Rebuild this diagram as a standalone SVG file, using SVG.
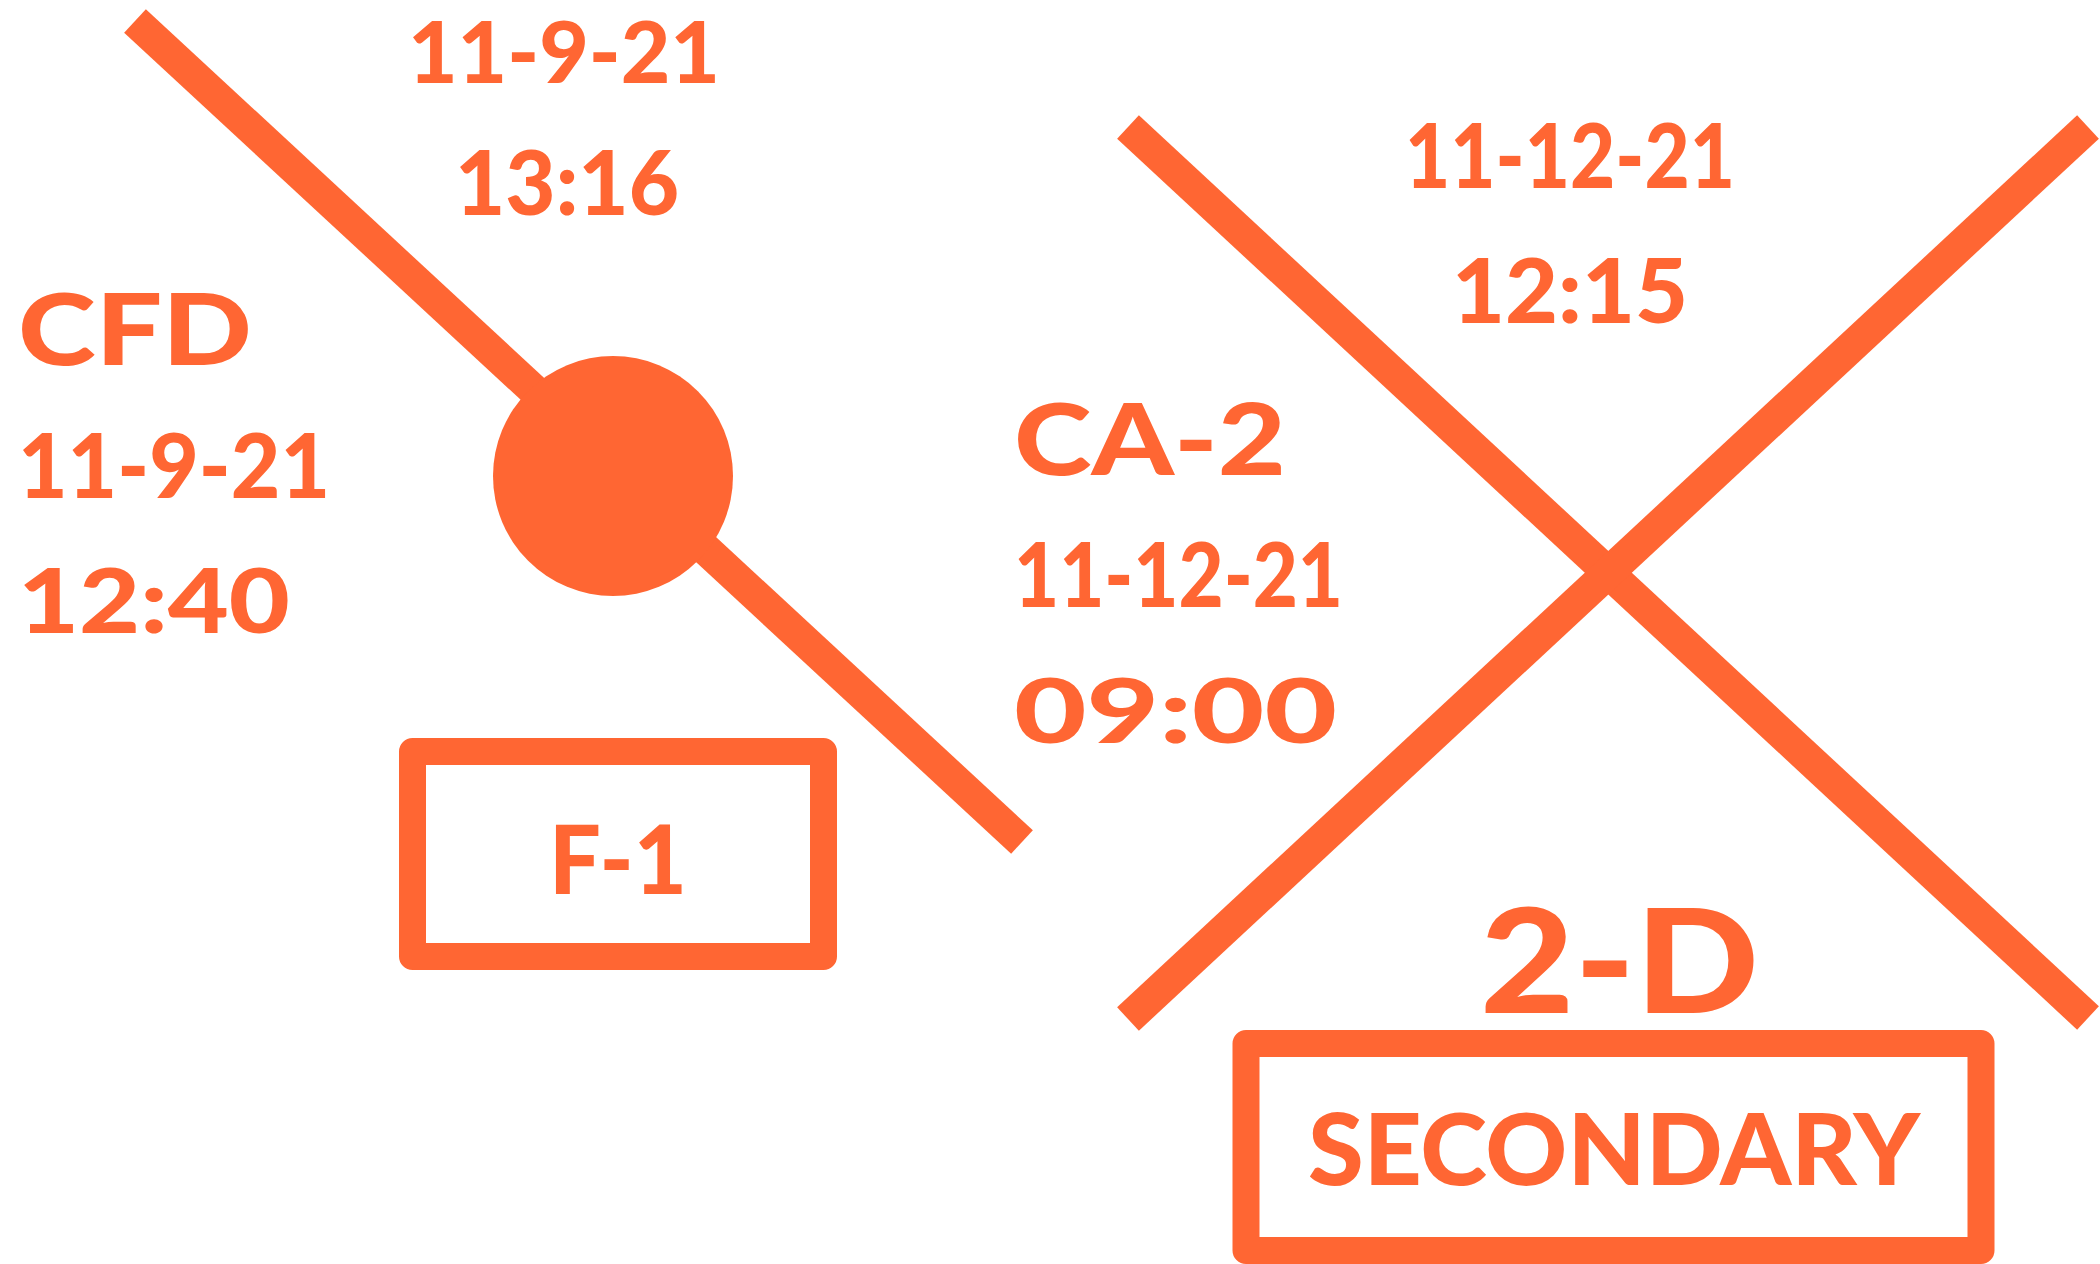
<svg xmlns="http://www.w3.org/2000/svg" width="2100" height="1264" viewBox="0 0 2100 1264">
<style>
.ln{stroke:#FF6633;stroke-width:32;fill:none;stroke-linecap:butt}
.bx{fill:none;stroke:#FF6633;stroke-width:27;stroke-linejoin:round}
.t{font-family:"Lato","DejaVu Sans",sans-serif;font-weight:900;fill:#FF6633;font-size:90px}
</style>
<rect width="2100" height="1264" fill="#FFFFFF"/>
<g id="connectors">
<line class="ln" x1="135" y1="21" x2="1022" y2="842"/>
<line class="ln" x1="1128" y1="127" x2="2088" y2="1018"/>
<line class="ln" x1="1128" y1="1019" x2="2088" y2="127"/>
</g>
<g id="node-circle">
<circle cx="613" cy="476" r="120" fill="#FF6633"/>
<text class="t" x="408" y="83" textLength="312" lengthAdjust="spacingAndGlyphs" style="font-size:86px">11-9-21</text>
<text class="t" x="455" y="215" textLength="224" lengthAdjust="spacingAndGlyphs">13:16</text>
</g>
<g id="node-cfd">
<text class="t" x="18" y="365" textLength="234" lengthAdjust="spacingAndGlyphs" style="font-size:100px">CFD</text>
<text class="t" x="18" y="498" textLength="312" lengthAdjust="spacingAndGlyphs">11-9-21</text>
<text class="t" x="18" y="633" textLength="272" lengthAdjust="spacingAndGlyphs">12:40</text>
</g>
<g id="node-ca2">
<text class="t" x="1014" y="475" textLength="272" lengthAdjust="spacingAndGlyphs" style="font-size:100px">CA-2</text>
<text class="t" x="1014" y="607" textLength="329" lengthAdjust="spacingAndGlyphs">11-12-21</text>
<text class="t" x="1014" y="743" textLength="323" lengthAdjust="spacingAndGlyphs">09:00</text>
</g>
<g id="node-x">
<text class="t" x="1405" y="188" textLength="330" lengthAdjust="spacingAndGlyphs">11-12-21</text>
<text class="t" x="1452" y="323" textLength="236" lengthAdjust="spacingAndGlyphs">12:15</text>
</g>
<g id="node-f1">
<rect class="bx" x="412.5" y="751.5" width="411" height="205"/>
<text class="t" x="549" y="894" textLength="138" lengthAdjust="spacingAndGlyphs" style="font-size:95px">F-1</text>
</g>
<g id="node-secondary">
<text class="t" x="1480" y="1013" textLength="279" lengthAdjust="spacingAndGlyphs" style="font-size:145px">2-D</text>
<rect class="bx" x="1246" y="1043.5" width="735" height="207"/>
<text class="t" x="1308" y="1185" textLength="612" lengthAdjust="spacingAndGlyphs" style="font-size:100px">SECONDARY</text>
</g>
</svg>
